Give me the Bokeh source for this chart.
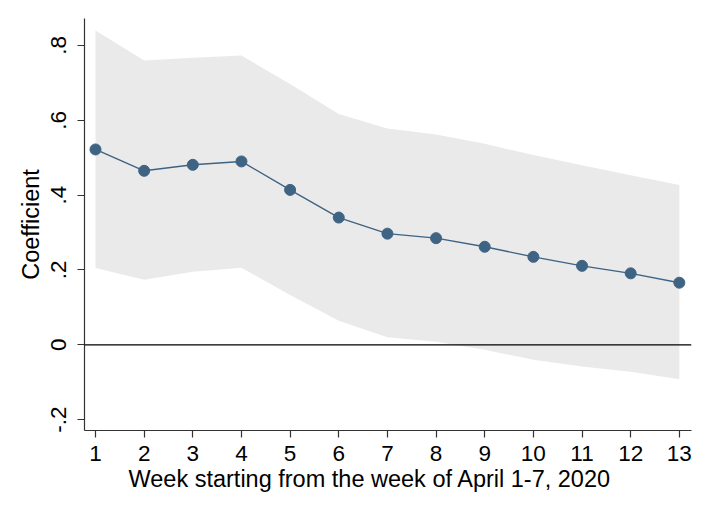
from bokeh.plotting import figure
from bokeh.models import Range1d, Span, FixedTicker, ColumnDataSource, Title
from bokeh.embed import file_html
from bokeh.resources import INLINE

weeks = [1, 2, 3, 4, 5, 6, 7, 8, 9, 10, 11, 12, 13]
coef = [0.522, 0.465, 0.481, 0.490, 0.414, 0.340, 0.297, 0.285, 0.262, 0.235, 0.211, 0.191, 0.166]
upper = [0.840, 0.760, 0.767, 0.773, 0.697, 0.617, 0.578, 0.562, 0.537, 0.507, 0.480, 0.453, 0.427]
lower = [0.205, 0.174, 0.195, 0.206, 0.133, 0.064, 0.020, 0.008, -0.013, -0.040, -0.058, -0.072, -0.092]
y_ticks = [-0.2, 0.0, 0.2, 0.4, 0.6, 0.8]
y_tick_labels = ["-.2", "0", ".2", ".4", ".6", ".8"]
x_title = "Week starting from the week of April 1-7, 2020"
y_title = "Coefficient"

src = ColumnDataSource(dict(x=weeks, y=coef, lo=lower, hi=upper))

FONT = "Liberation Sans"

p = figure(width=693, height=500, output_backend="svg", toolbar_location=None,
           x_range=Range1d(0.774, 13.25), y_range=Range1d(-0.229, 0.872),
           min_border_left=84, min_border_right=2, min_border_top=18, min_border_bottom=70)
p.outline_line_color = None
p.xgrid.grid_line_color = None
p.ygrid.grid_line_color = None
p.background_fill_color = "white"
p.border_fill_color = "white"

p.varea(x="x", y1="lo", y2="hi", source=src, fill_color="#eaeaea", fill_alpha=1.0)
p.add_layout(Span(location=0, dimension="width", line_color="black", line_width=1.3))
p.line(x="x", y="y", source=src, line_color="#3e6383", line_width=1.4)
p.scatter(x="x", y="y", source=src, size=11, fill_color="#3e6383", line_color="#3e6383")

p.xaxis.ticker = FixedTicker(ticks=weeks)
p.yaxis.ticker = FixedTicker(ticks=y_ticks)
p.yaxis.major_label_overrides = {t: l for t, l in zip(y_ticks, y_tick_labels)}
p.yaxis.major_label_orientation = "vertical"

for ax in (p.xaxis, p.yaxis):
    ax.axis_line_color = "#333333"
    ax.axis_line_width = 1.2
    ax.major_tick_line_color = "#333333"
    ax.major_tick_line_width = 1.2
    ax.major_tick_out = 7
    ax.major_tick_in = 0
    ax.minor_tick_line_color = None
    ax.major_label_text_font = FONT
    ax.major_label_text_font_size = "22.5px"
    ax.major_label_text_color = "black"
    ax.axis_label_text_font = FONT
    ax.axis_label_text_font_size = "23.5px"
    ax.axis_label_text_font_style = "normal"
    ax.axis_label_text_color = "black"

p.xaxis.major_label_standoff = 8
p.yaxis.axis_label = y_title
p.yaxis.major_label_standoff = 11
p.yaxis.axis_label_standoff = 5

p.add_layout(Title(text=x_title, align="left", offset=44, standoff=0,
                   text_font=FONT, text_font_size="23.5px", text_font_style="normal",
                   text_color="black"), "below")

open("out.html", "w").write(file_html(p, INLINE))
